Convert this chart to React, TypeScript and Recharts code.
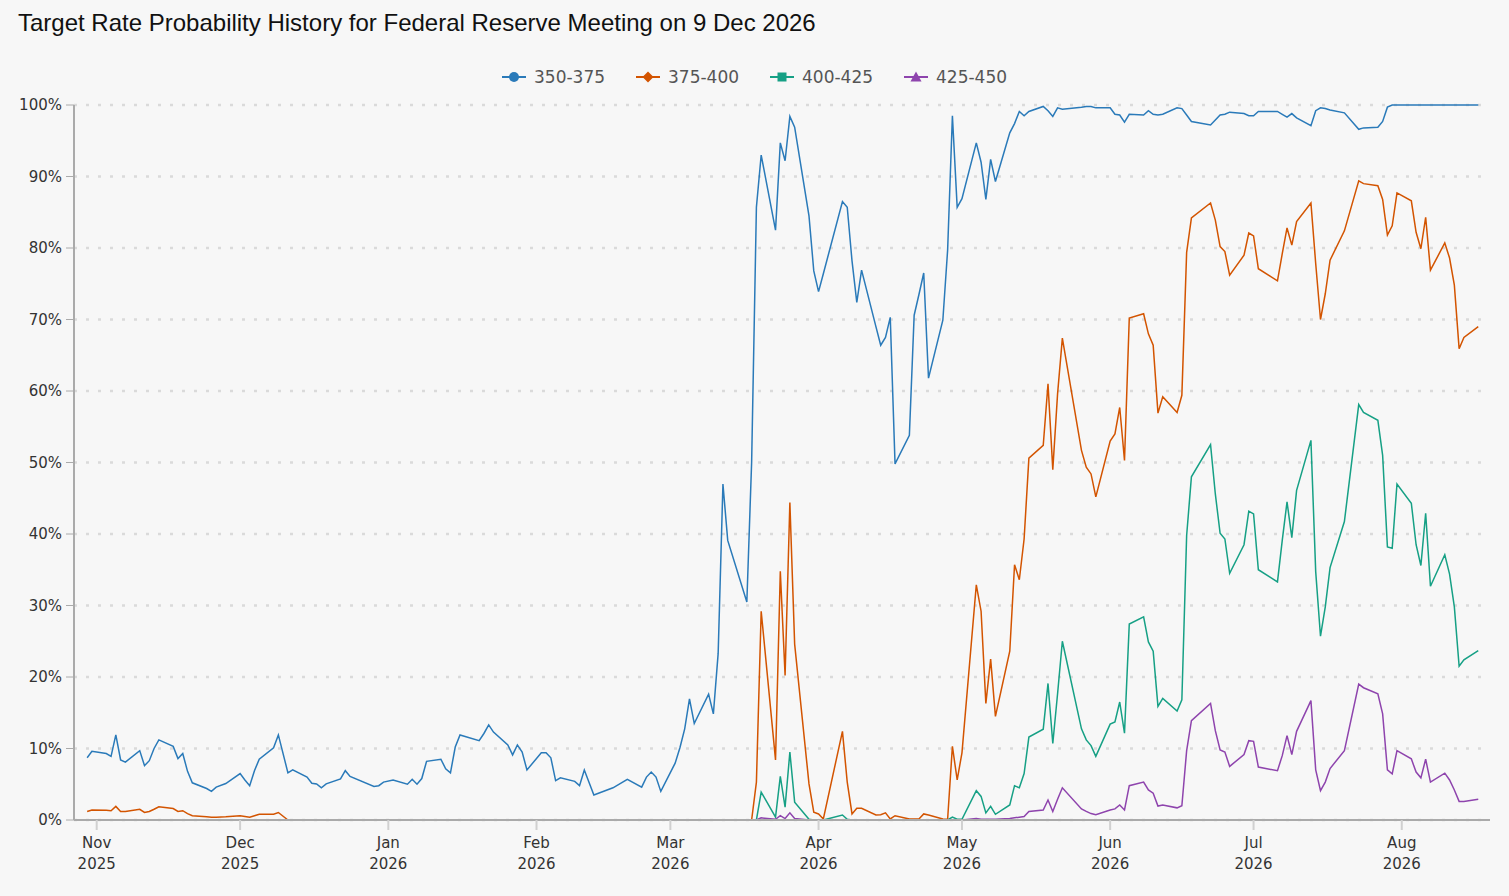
import { LineChart, Line, XAxis, YAxis, CartesianGrid } from "recharts"

// business days with a reading, grouped by month
const dates = [
  "2025-10-30", "2025-10-31",
  "2025-11-03", "2025-11-04", "2025-11-05", "2025-11-06", "2025-11-07", "2025-11-10", "2025-11-11", "2025-11-12", "2025-11-13", "2025-11-14",
  "2025-11-17", "2025-11-18", "2025-11-19", "2025-11-20", "2025-11-21", "2025-11-24", "2025-11-25", "2025-11-26", "2025-11-28",
  "2025-12-01", "2025-12-02", "2025-12-03", "2025-12-04", "2025-12-05", "2025-12-08", "2025-12-09", "2025-12-11", "2025-12-12", "2025-12-15",
  "2025-12-16", "2025-12-17", "2025-12-18", "2025-12-19", "2025-12-22", "2025-12-23", "2025-12-24", "2025-12-29", "2025-12-30", "2025-12-31",
  "2026-01-02", "2026-01-05", "2026-01-06", "2026-01-07", "2026-01-08", "2026-01-09", "2026-01-12", "2026-01-13", "2026-01-14", "2026-01-15",
  "2026-01-16", "2026-01-20", "2026-01-21", "2026-01-22", "2026-01-23", "2026-01-26", "2026-01-27", "2026-01-28", "2026-01-29", "2026-01-30",
  "2026-02-02", "2026-02-03", "2026-02-04", "2026-02-05", "2026-02-06", "2026-02-09", "2026-02-10", "2026-02-11", "2026-02-13", "2026-02-17",
  "2026-02-20", "2026-02-23", "2026-02-24", "2026-02-25", "2026-02-26", "2026-02-27",
  "2026-03-02", "2026-03-03", "2026-03-04", "2026-03-05", "2026-03-06", "2026-03-09", "2026-03-10", "2026-03-11", "2026-03-12", "2026-03-13",
  "2026-03-17", "2026-03-18", "2026-03-19", "2026-03-20", "2026-03-23", "2026-03-24", "2026-03-25", "2026-03-26", "2026-03-27", "2026-03-30", "2026-03-31",
  "2026-04-01", "2026-04-02", "2026-04-06", "2026-04-07", "2026-04-08", "2026-04-09", "2026-04-10", "2026-04-13", "2026-04-14", "2026-04-15",
  "2026-04-16", "2026-04-17", "2026-04-20", "2026-04-21", "2026-04-22", "2026-04-23", "2026-04-24", "2026-04-27", "2026-04-28", "2026-04-29", "2026-04-30",
  "2026-05-01", "2026-05-04", "2026-05-05", "2026-05-06", "2026-05-07", "2026-05-08", "2026-05-11", "2026-05-12", "2026-05-13", "2026-05-14",
  "2026-05-15", "2026-05-18", "2026-05-19", "2026-05-20", "2026-05-21", "2026-05-22", "2026-05-26", "2026-05-27", "2026-05-28", "2026-05-29",
  "2026-06-01", "2026-06-02", "2026-06-03", "2026-06-04", "2026-06-05", "2026-06-08", "2026-06-09", "2026-06-10", "2026-06-11", "2026-06-12",
  "2026-06-15", "2026-06-16", "2026-06-17", "2026-06-18", "2026-06-22", "2026-06-23", "2026-06-24", "2026-06-25", "2026-06-26", "2026-06-29", "2026-06-30",
  "2026-07-01", "2026-07-02", "2026-07-06", "2026-07-07", "2026-07-08", "2026-07-09", "2026-07-10", "2026-07-13", "2026-07-14", "2026-07-15",
  "2026-07-16", "2026-07-17", "2026-07-20", "2026-07-23", "2026-07-24", "2026-07-27", "2026-07-28", "2026-07-29", "2026-07-30", "2026-07-31",
  "2026-08-03", "2026-08-04", "2026-08-05", "2026-08-06", "2026-08-07", "2026-08-10", "2026-08-11", "2026-08-12", "2026-08-13", "2026-08-14", "2026-08-17",
]

const r350 = [
  8.7, 9.6,
  9.3, 8.9, 11.9, 8.4, 8.1, 9.7, 7.6, 8.3, 10.0, 11.2, 10.3, 8.6, 9.3, 6.8, 5.2, 4.4, 4.0, 4.6, 5.1,
  6.5, 5.6, 4.8, 6.9, 8.5, 10.1, 11.9, 6.6, 7.0, 6.0, 5.15, 5.05, 4.5, 5.05, 5.75, 6.9, 6.1, 4.7, 4.8, 5.3,
  5.6, 5.0, 5.7, 5.0, 5.8, 8.2, 8.5, 7.15, 6.6, 10.2, 11.9, 11.1, 12.1, 13.3, 12.3, 10.5, 9.1, 10.5, 9.5, 7.0,
  9.4, 9.4, 8.7, 5.5, 5.9, 5.4, 4.8, 7.0, 3.5, 4.5, 5.7, 4.6, 6.0, 6.7, 6.0, 4.0,
  7.95, 10.1, 12.75, 16.95, 13.5, 17.6, 14.85, 23.3, 47.0, 39.1, 30.5, 50.0, 85.7, 93.0, 82.5, 94.7, 92.2, 98.4, 96.9, 84.5, 76.8,
  73.9, 76.4, 86.5, 85.7, 78.2, 72.4, 76.9, 69.0, 66.4, 67.5, 70.3, 49.8, 53.8, 70.6, 73.5, 76.5, 61.8, 69.9, 79.7, 98.5, 85.7,
  86.9, 94.7, 92.0, 86.8, 92.4, 89.3, 96.1, 97.4, 99.1, 98.5, 99.1, 99.8, 99.2, 98.4, 99.6, 99.4, 99.7, 99.8, 99.8, 99.6,
  99.6, 98.7, 98.6, 97.6, 98.7, 98.6, 99.2, 98.7, 98.6, 98.7, 99.6, 99.5, 98.6, 97.7, 97.2, 97.9, 98.6, 98.7, 99.0, 98.8, 98.5,
  98.5, 99.1, 99.1, 98.7, 98.3, 98.8, 98.2, 97.1, 99.2, 99.6, 99.5, 99.3, 98.9, 96.6, 96.8, 96.9, 97.7, 99.7, 100, 100,
  100, 100, 100, 100, 100, 100, 100, 100, 100, 100, 100,
]

const r375 = [
  1.2, 1.4,
  1.35, 1.3, 1.9, 1.2, 1.2, 1.5, 1.05, 1.2, 1.5, 1.85, 1.6, 1.2, 1.3, 0.9, 0.6, 0.45, 0.4, 0.4, 0.45,
  0.6, 0.5, 0.4, 0.6, 0.8, 0.8, 1.05, 0, 0, 0, 0, 0, 0, 0, 0, 0, 0, 0, 0, 0,
  0, 0, 0, 0, 0, 0, 0, 0, 0, 0, 0, 0, 0, 0, 0, 0, 0, 0, 0, 0,
  0, 0, 0, 0, 0, 0, 0, 0, 0, 0, 0, 0, 0, 0, 0, 0,
  0, 0, 0, 0, 0, 0, 0, 0, 0, 0, 0, 0, 5.3, 29.2, 8.4, 34.8, 20.2, 44.4, 24.6, 5.05, 1.1,
  0.85, 0.15, 12.4, 5.3, 0.85, 1.65, 1.65, 0.7, 0.75, 1.0, 0.15, 0.6, 0.15, 0.15, 0.15, 0.85, 0.7, 0.15, 0.1, 10.3, 5.6,
  9.4, 32.9, 29.2, 16.3, 22.5, 14.5, 23.6, 35.7, 33.6, 39.3, 50.6, 52.4, 61.0, 49.0, 59.6, 67.4, 51.7, 49.35, 48.4, 45.2,
  53.0, 54.0, 57.7, 50.3, 70.2, 70.8, 68.0, 66.4, 56.9, 59.2, 57.0, 59.4, 79.4, 84.2, 86.3, 83.9, 80.2, 79.5, 76.2, 79.0, 82.1,
  81.7, 77.1, 75.4, 79.2, 82.8, 80.4, 83.7, 86.3, 77.8, 70.0, 73.6, 78.3, 82.4, 89.4, 89.0, 88.7, 86.8, 81.8, 83.1, 87.7,
  86.6, 82.2, 79.9, 84.3, 76.9, 80.7, 78.6, 74.8, 65.9, 67.5, 69.0,
]

const r400 = [
  0, 0,
  0, 0, 0, 0, 0, 0, 0, 0, 0, 0, 0, 0, 0, 0, 0, 0, 0, 0, 0,
  0, 0, 0, 0, 0, 0, 0, 0, 0, 0, 0, 0, 0, 0, 0, 0, 0, 0, 0, 0,
  0, 0, 0, 0, 0, 0, 0, 0, 0, 0, 0, 0, 0, 0, 0, 0, 0, 0, 0, 0,
  0, 0, 0, 0, 0, 0, 0, 0, 0, 0, 0, 0, 0, 0, 0, 0,
  0, 0, 0, 0, 0, 0, 0, 0, 0, 0, 0, 0, 0, 3.9, 0.4, 6.1, 1.8, 9.5, 2.5, 0.1, 0,
  0, 0, 0.7, 0.1, 0, 0, 0, 0, 0, 0, 0, 0, 0, 0, 0, 0, 0, 0, 0, 0.4, 0.1,
  0.1, 4.1, 3.3, 1.0, 1.9, 0.8, 2.1, 4.8, 4.5, 6.5, 11.6, 12.7, 19.1, 10.7, 17.65, 25.0, 12.75, 11.2, 10.4, 8.9,
  13.4, 13.7, 16.5, 12.15, 27.4, 28.4, 24.9, 23.6, 15.9, 17.0, 15.25, 16.8, 39.8, 48.0, 52.5, 45.6, 40.1, 39.3, 34.5, 38.5, 43.2,
  42.8, 35.0, 33.3, 39.1, 44.5, 39.5, 46.1, 53.1, 34.7, 25.7, 29.8, 35.3, 41.75, 58.1, 57.0, 55.9, 51.0, 38.2, 38.0, 47.0,
  44.3, 38.5, 35.6, 42.9, 32.7, 37.1, 34.4, 29.8, 21.5, 22.4, 23.7,
]

const r425 = [
  0, 0,
  0, 0, 0, 0, 0, 0, 0, 0, 0, 0, 0, 0, 0, 0, 0, 0, 0, 0, 0,
  0, 0, 0, 0, 0, 0, 0, 0, 0, 0, 0, 0, 0, 0, 0, 0, 0, 0, 0, 0,
  0, 0, 0, 0, 0, 0, 0, 0, 0, 0, 0, 0, 0, 0, 0, 0, 0, 0, 0, 0,
  0, 0, 0, 0, 0, 0, 0, 0, 0, 0, 0, 0, 0, 0, 0, 0,
  0, 0, 0, 0, 0, 0, 0, 0, 0, 0, 0, 0, 0, 0.3, 0.1, 0.6, 0.2, 1.0, 0.2, 0, 0,
  0, 0, 0, 0, 0, 0, 0, 0, 0, 0, 0, 0, 0, 0, 0, 0, 0, 0, 0, 0, 0,
  0, 0.2, 0.1, 0.1, 0.1, 0.1, 0.2, 0.3, 0.4, 0.5, 1.2, 1.4, 2.8, 1.2, 2.9, 4.5, 1.55, 1.2, 0.9, 0.75,
  1.4, 1.55, 2.1, 1.4, 4.8, 5.3, 4.2, 3.75, 1.95, 2.1, 1.7, 2.0, 9.7, 13.9, 16.3, 12.5, 9.8, 9.5, 7.5, 9.15, 11.1,
  11.0, 7.4, 6.9, 9.0, 11.8, 9.15, 12.4, 16.7, 7.0, 4.1, 5.3, 7.2, 9.7, 19.0, 18.5, 17.65, 14.85, 7.0, 6.45, 9.7,
  8.55, 6.7, 5.9, 8.5, 5.3, 6.55, 5.6, 4.2, 2.6, 2.6, 2.9,
]

const monthTicks = [
  "2025-11-01", "2025-12-01", "2026-01-01", "2026-02-01", "2026-03-01",
  "2026-04-01", "2026-05-01", "2026-06-01", "2026-07-01", "2026-08-01",
]
const pctTicks = [0, 10, 20, 30, 40, 50, 60, 70, 80, 90, 100]

const series = [
  { key: "r350", name: "350-375", color: "#2a7ab9", marker: "circle" },
  { key: "r375", name: "375-400", color: "#d35400", marker: "diamond" },
  { key: "r400", name: "400-425", color: "#16a085", marker: "square" },
  { key: "r425", name: "425-450", color: "#8e44ad", marker: "triangle" },
]

const MONTHS = ["Jan", "Feb", "Mar", "Apr", "May", "Jun", "Jul", "Aug", "Sep", "Oct", "Nov", "Dec"]

const data = dates.map((d, i) => ({
  t: Date.parse(d),
  r350: r350[i],
  r375: r375[i],
  r400: r400[i],
  r425: r425[i],
}))

const xStart = Date.UTC(2025, 9, 27, 6)
const xEnd = Date.UTC(2026, 7, 19, 11)

function DateTick(props: any) {
  const { x, y, payload } = props
  const d = new Date(payload.value)
  return (
    <g transform={`translate(${x},${y})`}>
      <text textAnchor="middle" fill="#333" fontSize={15} fontFamily="DejaVu Sans">
        <tspan x={0} dy={18}>{MONTHS[d.getUTCMonth()]}</tspan>
        <tspan x={0} dy={21}>{d.getUTCFullYear()}</tspan>
      </text>
    </g>
  )
}

function Marker({ type, color }: { type: string; color: string }) {
  if (type === "circle") return <circle cx={12} cy={7} r={5} fill={color} />
  if (type === "diamond") return <path d="M12 1.5 L17.5 7 L12 12.5 L6.5 7 Z" fill={color} />
  if (type === "square") return <rect x={7.5} y={2.5} width={9} height={9} fill={color} />
  return <path d="M12 1.5 L17.5 11.5 L6.5 11.5 Z" fill={color} />
}

export default function App() {
  return (
    <div
      style={{
        position: "absolute",
        left: 0,
        top: 0,
        width: 1509,
        height: 896,
        background: "#f7f7f7",
        fontFamily: "DejaVu Sans",
        overflow: "hidden",
      }}
    >
      <div style={{ position: "absolute", left: 0, top: 0 }}>
        <LineChart width={1509} height={896} data={data} margin={{ top: 105, right: 19, bottom: 0, left: 0 }}>
          <CartesianGrid vertical={false} stroke="#dadada" strokeWidth={2.5} strokeDasharray="3 9" />
          <XAxis
            dataKey="t"
            type="number"
            domain={[xStart, xEnd]}
            allowDataOverflow
            ticks={monthTicks.map((m) => Date.parse(m))}
            tick={<DateTick />}
            height={76}
            tickSize={10}
            tickMargin={0}
            axisLine={{ stroke: "#aaa", strokeWidth: 2 }}
            tickLine={{ stroke: "#d0d0d0", strokeWidth: 2 }}
          />
          <YAxis
            type="number"
            domain={[0, 100]}
            ticks={pctTicks}
            tickFormatter={(v: number) => `${v}%`}
            width={74}
            tickSize={8}
            tickMargin={4}
            tick={{ fontSize: 15, fill: "#333", fontFamily: "DejaVu Sans" }}
            axisLine={{ stroke: "#aaa", strokeWidth: 2 }}
            tickLine={{ stroke: "#aaa", strokeWidth: 1 }}
          />
          {series.map((s) => (
            <Line
              key={s.key}
              type="linear"
              dataKey={s.key}
              name={s.name}
              stroke={s.color}
              strokeWidth={1.5}
              dot={false}
              activeDot={false}
              isAnimationActive={false}
            />
          ))}
        </LineChart>
      </div>
      <div
        style={{
          position: "absolute",
          left: 18,
          top: 9,
          fontFamily: "Liberation Sans",
          fontSize: 24,
          lineHeight: "28px",
          color: "#111",
          whiteSpace: "nowrap",
        }}
      >
        Target Rate Probability History for Federal Reserve Meeting on 9 Dec 2026
      </div>
      <div style={{ position: "absolute", left: 502, top: 66, display: "flex", alignItems: "center" }}>
        {series.map((s) => (
          <div key={s.key} style={{ width: 134, display: "flex", alignItems: "center", height: 21 }}>
            <svg width={24} height={14} style={{ marginRight: 8 }}>
              <line x1={0} y1={7} x2={24} y2={7} stroke={s.color} strokeWidth={2} />
              <Marker type={s.marker} color={s.color} />
            </svg>
            <span style={{ fontSize: 17, color: "#555", whiteSpace: "nowrap" }}>{s.name}</span>
          </div>
        ))}
      </div>
    </div>
  )
}
